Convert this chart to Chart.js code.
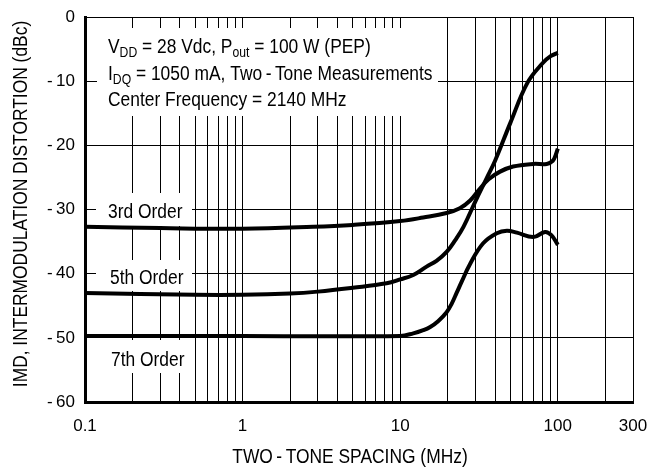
<!DOCTYPE html>
<html>
<head>
<meta charset="utf-8">
<script src="https://cdn.jsdelivr.net/npm/chart.js@4.4.0/dist/chart.umd.min.js"></script>
<style>
  html, body { margin: 0; padding: 0; background: #fff; }
  #wrap { width: 649px; height: 467px; position: relative; }
</style>
</head>
<body>
<div id="wrap"><canvas id="imd"></canvas></div>
<script>
// IMD vs two-tone spacing, three intermod orders

// 3rd order
var freq3 = [0.1, 0.3, 1, 2.8, 5, 10, 14, 19.7, 23.9, 27.8, 31.7, 36.4, 43, 52, 70, 85, 93, 97, 100];
var imd3  = [-32.7, -32.9, -33.0, -32.7, -32.4, -31.8, -31.25, -30.55, -29.8, -28.6, -26.9, -25.3, -24.1, -23.3, -22.9, -22.9, -22.4, -21.5, -20.5];

// 5th order
var freq5 = [0.1, 0.5, 1, 2, 3, 5, 8.2, 10, 12.1, 14.7, 17, 19.7, 22.3, 25.2, 29.9, 35.4, 40, 50, 64, 80, 90, 100];
var imd5  = [-43.0, -43.3, -43.3, -43.1, -42.8, -42.2, -41.5, -40.9, -40.2, -38.9, -38.0, -36.6, -34.8, -32.7, -28.8, -25.1, -22.4, -16.5, -10.3, -7.2, -6.1, -5.6];

// 7th order
var freq7 = [0.1, 1, 10, 12.1, 14, 15.5, 17.4, 19.7, 21.2, 22.8, 24.6, 27.6, 33.5, 41, 47.5, 55, 70, 83, 91, 100];
var imd7  = [-49.7, -49.7, -49.7, -49.3, -48.8, -48.3, -47.4, -46.0, -44.7, -43.0, -41.2, -38.6, -35.3, -33.7, -33.3, -33.6, -34.3, -33.5, -34.0, -35.5];

// axis ticks
var xLabelValues = [0.1, 1, 10, 100, 300];
var xLabelText   = ["0.1", "1", "10", "100", "300"];
var yTickValues  = [0, -10, -20, -30, -40, -50, -60];
var yTickText    = ["0", "-\u200910", "-\u200920", "-\u200930", "-\u200940", "-\u200950", "-\u200960"];

// vertical grid: 1..9 per decade, then 100/200/300
var xGridValues = [];
[0.1, 1, 10].forEach(function(d) {
  for (var k = 1; k <= 9; k++) xGridValues.push(+(k * d).toPrecision(6));
});
xGridValues.push(100, 200, 300);

var FONT = '"Liberation Sans", Arial, sans-serif';
var SX   = 0.87;   // squeeze for the narrow face look

function pts(xs, ys) {
  return xs.map(function(x, i) { return { x: x, y: ys[i] }; });
}

function curve(label, xs, ys) {
  return {
    label: label,
    data: pts(xs, ys),
    borderColor: "#000",
    borderWidth: 4,
    pointRadius: 0,
    fill: false,
    tension: 0.4
  };
}

// narrow text: scale x around the anchor, return advance
function narrowText(c, txt, x, y) {
  c.save();
  c.translate(x, y);
  c.scale(SX, 1);
  c.fillText(txt, 0, 0);
  c.restore();
  return c.measureText(txt).width * SX;
}

// white patches behind the notes, then the notes themselves
var notes = {
  id: "notes",
  beforeDatasetsDraw: function(chart) {
    var c = chart.ctx;
    c.save();
    c.fillStyle = "#fff";
    c.fillRect(97, 28, 341, 88);    // conditions box
    c.fillRect(96, 193, 96, 33);    // 3rd
    c.fillRect(96, 260, 96, 31);    // 5th
    c.fillRect(96, 340, 96, 33);    // 7th
    c.restore();
  },
  afterDatasetsDraw: function(chart) {
    var c = chart.ctx;
    c.save();
    c.fillStyle = "#000";
    c.textBaseline = "alphabetic";
    c.textAlign = "left";

    function runs(x, y, parts) {
      parts.forEach(function(p) {
        c.font = (p[1] ? "14px " : "20px ") + FONT;
        x += narrowText(c, p[0], x, p[1] ? y + 4 : y);
      });
    }
    runs(108, 53, [["V"], ["DD", 1], [" = 28 Vdc, P"], ["out", 1], [" = 100 W (PEP)"]]);
    runs(108, 80, [["I"], ["DQ", 1], [" = 1050 mA, Two\u2009-\u2009Tone Measurements"]]);
    runs(108, 106, [["Center Frequency = 2140 MHz"]]);

    c.font = "20px " + FONT;
    narrowText(c, "3rd Order", 108, 218);
    narrowText(c, "5th Order", 110, 284);
    narrowText(c, "7th Order", 111, 366);
    c.restore();
  },
  afterDraw: function(chart) {
    var c = chart.ctx;
    c.save();
    c.fillStyle = "#000";
    c.font = "20px " + FONT;
    c.textAlign = "center";
    c.textBaseline = "alphabetic";
    narrowText(c, "TWO\u2009-\u2009TONE SPACING (MHz)", 350, 463);
    c.translate(27, 204);
    c.rotate(-Math.PI / 2);
    narrowText(c, "IMD, INTERMODULATION DISTORTION (dBc)", 0, 0);
    c.restore();
  }
};

new Chart(document.getElementById("imd"), {
  type: "line",
  data: {
    datasets: [
      curve("3rd Order", freq3, imd3),
      curve("5th Order", freq5, imd5),
      curve("7th Order", freq7, imd7)
    ]
  },
  options: {
    responsive: true,
    maintainAspectRatio: false,
    animation: false,
    layout: { padding: { left: 0, top: 17, right: 16, bottom: 0 } },
    plugins: { legend: { display: false }, tooltip: { enabled: false } },
    scales: {
      x: {
        type: "logarithmic",
        min: 0.1, max: 300,
        afterBuildTicks: function(s) {
          s.ticks = xGridValues.map(function(v) { return { value: v }; });
        },
        afterFit: function(s) {
          s.height = 65;
          s.paddingLeft = 0;
          s.paddingRight = 0;
        },
        grid: { color: "#000", lineWidth: 1, drawTicks: false },
        border: { color: "#000", width: 3 },
        ticks: {
          autoSkip: false, maxRotation: 0, padding: 14,
          color: "#000", font: { family: FONT, size: 17 },
          callback: function(v) {
            for (var i = 0; i < xLabelValues.length; i++) {
              if (Math.abs(xLabelValues[i] - v) / v < 1e-6) return xLabelText[i];
            }
            return "";
          }
        }
      },
      y: {
        type: "linear",
        min: -60, max: 0,
        afterBuildTicks: function(s) {
          s.ticks = yTickValues.map(function(v) { return { value: v }; });
        },
        afterFit: function(s) {
          s.width = 85;
          s.paddingTop = 0;
          s.paddingBottom = 0;
        },
        grid: { color: "#000", lineWidth: 1, drawTicks: false },
        border: { color: "#000", width: 3 },
        ticks: {
          padding: 10, color: "#000", font: { family: FONT, size: 17 },
          callback: function(v) {
            var i = yTickValues.indexOf(v);
            return i >= 0 ? yTickText[i] : "";
          }
        }
      }
    }
  },
  plugins: [notes]
});
</script>
</body>
</html>
